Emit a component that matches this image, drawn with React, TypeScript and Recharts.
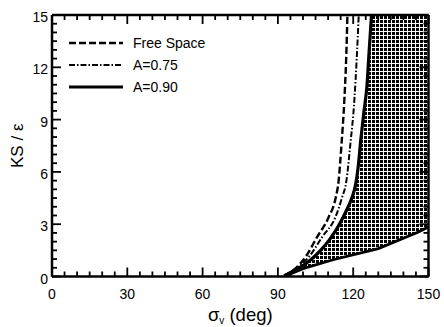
import React from "react";
import { ComposedChart, Line, Area, XAxis, YAxis, Legend } from "recharts";

// values
const freeX = [92.5, 96.5, 100.9, 105.6, 110.2, 113, 114.2, 115.3, 116.5, 117.2, 117.7];
const freeY = [0.05, 0.4, 1.1, 2.26, 3.4, 4.5, 5.5, 7.5, 10.2, 12.5, 15];

const a75X = [92.5, 97.5, 102.2, 107.6, 112.9, 115.5, 117.3, 118.8, 120.5, 121.4, 122.2];
const a75Y = [0.05, 0.5, 1.1, 2.26, 3.4, 4.5, 5.5, 7.5, 10.2, 12.5, 15];

const a90X = [92.5, 98, 103, 107, 110.5, 113.5, 116, 118, 119.7, 121, 122, 123, 124.3, 125.4, 126.3, 127.3];
const a90Y = [0.05, 0.45, 0.95, 1.5, 2.1, 2.75, 3.4, 4, 4.6, 5.3, 6.3, 7.8, 9.5, 10.8, 12.8, 15];

// lower edge of the shaded region
const lowX = [92.5, 100, 112, 130, 146, 150];
const lowY = [0, 0.45, 0.96, 1.6, 2.55, 2.85];

// shaded region stays at the top of the frame past the A=0.90 curve
const capX = [150];
const capY = [15];

const xTicks = [0, 5, 10, 15, 20, 25, 30, 35, 40, 45, 50, 55, 60, 65, 70, 75, 80, 85, 90, 95, 100, 105, 110, 115, 120, 125, 130, 135, 140, 145, 150];
const xMajor = [0, 30, 60, 90, 120, 150];
const yTicks = [0, 0.5, 1, 1.5, 2, 2.5, 3, 3.5, 4, 4.5, 5, 5.5, 6, 6.5, 7, 7.5, 8, 8.5, 9, 9.5, 10, 10.5, 11, 11.5, 12, 12.5, 13, 13.5, 14, 14.5, 15];
const yMajor = [0, 3, 6, 9, 12, 15];

const legendOrder = ["Free Space", "A=0.75", "A=0.90"];

const toPoints = (xs: number[], ys: number[]) => xs.map((x, i) => ({ x, y: ys[i] }));

const freeData = toPoints(freeX, freeY);
const a75Data = toPoints(a75X, a75Y);
const a90Data = toPoints(a90X, a90Y);
const lowData = toPoints(lowX, lowY);
const shadeData = toPoints([...a90X, ...capX], [...a90Y, ...capY]);

const FONT = "'Liberation Sans', Arial, Helvetica, sans-serif";

const SERIES_STYLE: Record<string, { dash?: string; width: number }> = {
  "Free Space": { dash: "7 3", width: 2.4 },
  "A=0.75": { dash: "6 2 1.5 2", width: 2 },
  "A=0.90": { width: 3.2 },
};

const BottomTick = ({ x, y, payload }: any) => {
  const major = xMajor.includes(payload.value);
  return (
    <g>
      <line x1={x} x2={x} y1={y} y2={y - (major ? 9 : 5)} stroke="#000" strokeWidth={1.8} />
      {major && (
        <text x={x} y={y + 22} textAnchor="middle" fontSize={14} fontFamily={FONT} fill="#000">
          {payload.value}
        </text>
      )}
    </g>
  );
};

const TopTick = ({ x, y, payload }: any) => {
  const major = xMajor.includes(payload.value);
  return <line x1={x} x2={x} y1={y} y2={y + (major ? 9 : 5)} stroke="#000" strokeWidth={1.8} />;
};

const LeftTick = ({ x, y, payload }: any) => {
  const major = yMajor.includes(payload.value);
  return (
    <g>
      <line x1={x} x2={x + (major ? 9 : 5)} y1={y} y2={y} stroke="#000" strokeWidth={1.8} />
      {major && (
        <text x={x - 4} y={y + 7} textAnchor="end" fontSize={14} fontFamily={FONT} fill="#000">
          {payload.value}
        </text>
      )}
    </g>
  );
};

const RightTick = ({ x, y, payload }: any) => {
  const major = yMajor.includes(payload.value);
  return <line x1={x} x2={x - (major ? 9 : 5)} y1={y} y2={y} stroke="#000" strokeWidth={1.8} />;
};

const LegendBox = ({ payload }: any) => {
  const items = legendOrder.filter((name) => (payload || []).some((p: any) => p.value === name));
  return (
    <div style={{ fontFamily: FONT, fontSize: 14, color: "#000" }}>
      {items.map((name) => {
        const s = SERIES_STYLE[name];
        return (
          <div key={name} style={{ display: "flex", alignItems: "center", height: 22 }}>
            <svg width={54} height={8} style={{ marginRight: 10 }}>
              <line x1={0} x2={54} y1={4} y2={4} stroke="#000" strokeWidth={s.width} strokeDasharray={s.dash} />
            </svg>
            <span>{name}</span>
          </div>
        );
      })}
    </div>
  );
};

export default function App() {
  return (
    <div style={{ position: "absolute", left: 0, top: 0, width: 444, height: 327 }}>
      <ComposedChart
        width={444}
        height={327}
        margin={{ top: 14, right: 14.5, bottom: 0, left: 0 }}
        style={{ overflow: "visible" }}
      >
        <defs>
          <pattern id="dots" width={4} height={4} patternUnits="userSpaceOnUse">
            <rect width={4} height={4} fill="#fff" />
            <rect x={0} y={0} width={3} height={3} rx={0.8} fill="#000" shapeRendering="crispEdges" />
          </pattern>
        </defs>
        <Area
          data={shadeData}
          dataKey="y"
          type="monotone"
          stroke="none"
          fill="url(#dots)"
          fillOpacity={1}
          legendType="none"
          isAnimationActive={false}
        />
        <Area
          data={lowData}
          dataKey="y"
          type="linear"
          stroke="none"
          fill="#fff"
          fillOpacity={1}
          legendType="none"
          isAnimationActive={false}
        />
        <Line data={lowData} dataKey="y" type="linear" stroke="#000" strokeWidth={2.8} dot={false} legendType="none" isAnimationActive={false} />
        <Line data={freeData} dataKey="y" name="Free Space" type="monotone" stroke="#000" strokeWidth={2.4} strokeDasharray="7 3" dot={false} isAnimationActive={false} />
        <Line data={a75Data} dataKey="y" name="A=0.75" type="monotone" stroke="#000" strokeWidth={2} strokeDasharray="6 2 1.5 2" dot={false} isAnimationActive={false} />
        <Line data={a90Data} dataKey="y" name="A=0.90" type="monotone" stroke="#000" strokeWidth={3.2} dot={false} isAnimationActive={false} />

        <XAxis
          xAxisId={0}
          dataKey="x"
          type="number"
          domain={[0, 150]}
          ticks={xTicks}
          interval={0}
          allowDataOverflow
          height={50.5}
          tickSize={0}
          tickMargin={0}
          tickLine={false}
          axisLine={{ stroke: "#000", strokeWidth: 2.5 }}
          tick={BottomTick}
          label={({ viewBox }: any) => (
            <text
              x={viewBox.x + viewBox.width / 2}
              y={321}
              textAnchor="middle"
              fontSize={18.5}
              fontFamily={FONT}
              fill="#000"
            >
              σ<tspan fontSize={10} dy={3}>v</tspan>
              <tspan dy={-3}> (deg)</tspan>
            </text>
          )}
        />
        <XAxis
          xAxisId="top"
          orientation="top"
          dataKey="x"
          type="number"
          domain={[0, 150]}
          ticks={xTicks}
          interval={0}
          allowDataOverflow
          height={1}
          tickSize={0}
          tickMargin={0}
          tickLine={false}
          axisLine={{ stroke: "#000", strokeWidth: 2.5 }}
          tick={TopTick}
        />
        <YAxis
          yAxisId={0}
          type="number"
          domain={[0, 15]}
          ticks={yTicks}
          interval={0}
          allowDataOverflow
          width={52}
          tickSize={0}
          tickMargin={0}
          tickLine={false}
          axisLine={{ stroke: "#000", strokeWidth: 2.5 }}
          tick={LeftTick}
          label={({ viewBox }: any) => (
            <text
              x={17}
              y={viewBox.y + viewBox.height / 2}
              transform={`rotate(-90, 17, ${viewBox.y + viewBox.height / 2})`}
              textAnchor="middle"
              dominantBaseline="central"
              fontSize={17}
              fontFamily={FONT}
              fill="#000"
            >
              KS / ε
            </text>
          )}
        />
        <YAxis
          yAxisId="right"
          orientation="right"
          type="number"
          domain={[0, 15]}
          ticks={yTicks}
          interval={0}
          allowDataOverflow
          width={1}
          tickSize={0}
          tickMargin={0}
          tickLine={false}
          axisLine={{ stroke: "#000", strokeWidth: 2.5 }}
          tick={RightTick}
        />
        <Legend
          layout="vertical"
          align="center"
          verticalAlign="middle"
          content={LegendBox}
          wrapperStyle={{ position: "absolute", left: 69, top: 32, width: "auto" }}
        />
      </ComposedChart>
    </div>
  );
}
